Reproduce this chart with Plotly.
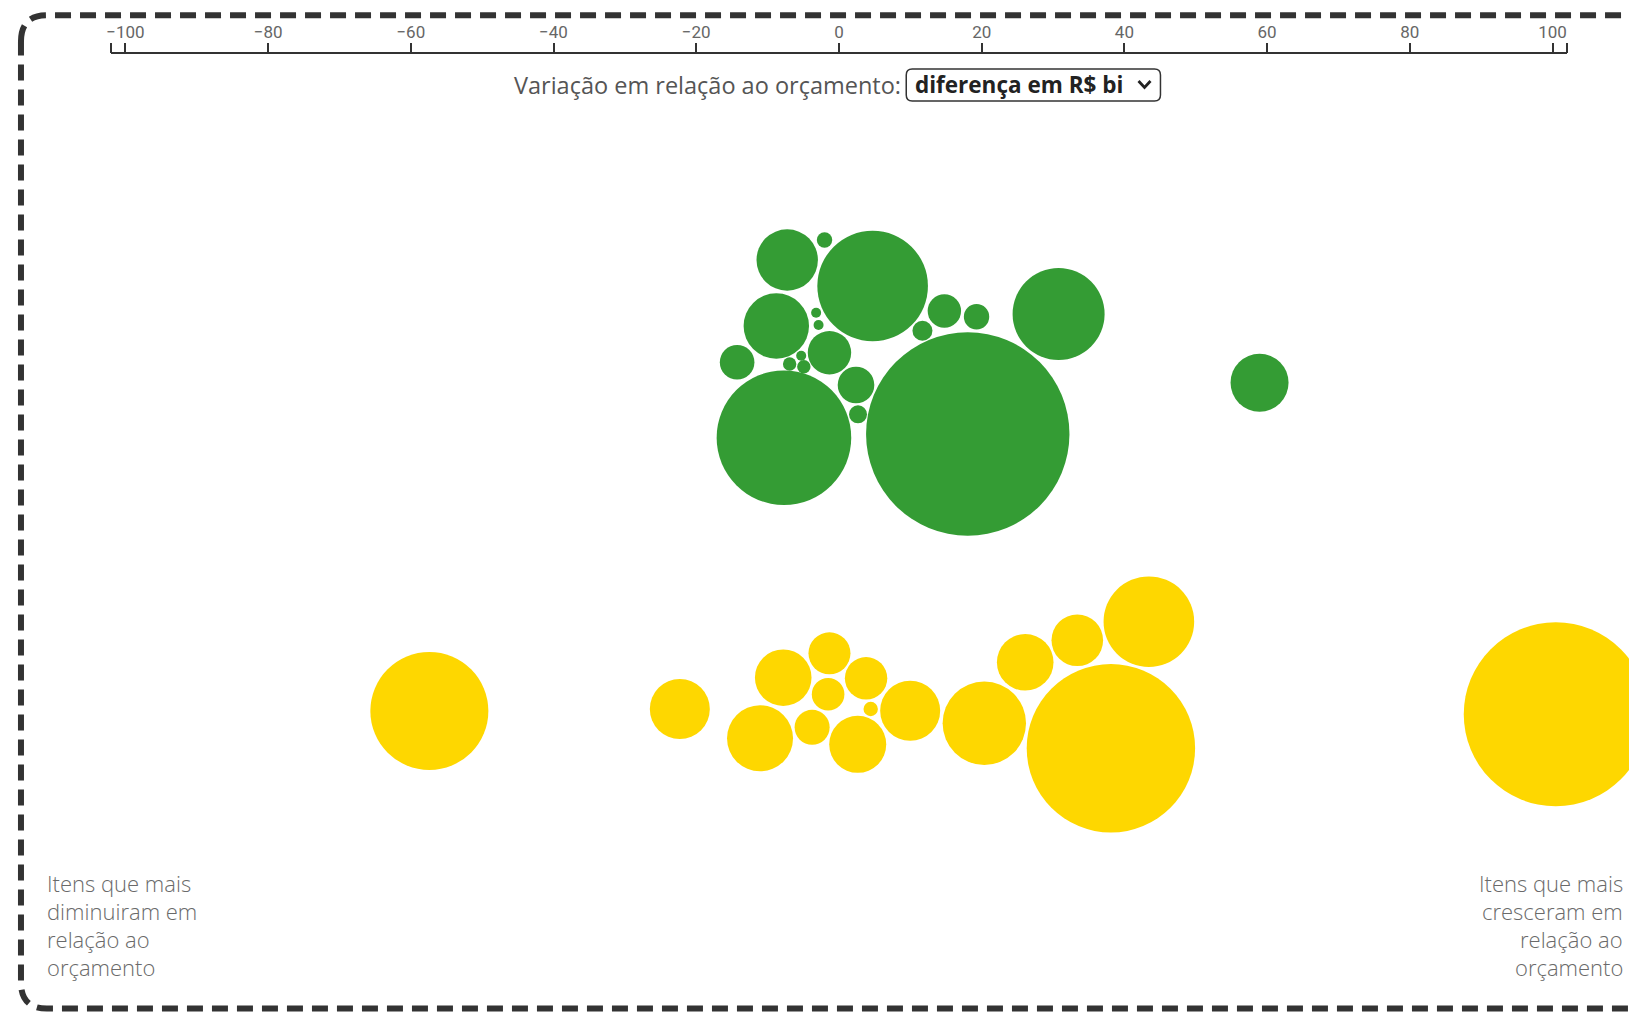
import plotly.graph_objects as go

# ---------------- data ----------------
tick_values = [-102, -100, -80, -60, -40, -20, 0, 20, 40, 60, 80, 100, 102]
tick_labels = ["", "\u2212100", "\u221280", "\u221260", "\u221240", "\u221220", "0", "20", "40", "60", "80", "100", ""]

# green group: difference (R$ bi), swarm offset, bubble radius
green_val = [-7.25, -2.02, 4.72, -8.78, -3.20, -2.86, -1.33, -14.27, -6.91, -5.29,
             -4.92, 2.39, 2.67, -7.71, 18.05, 14.77, 19.28, 11.70, 30.78, 58.94]
green_swarm_y = [260, 240, 286, 326, 312.7, 325, 352.7, 362.3, 364, 355.7,
                 366.7, 385, 414.3, 437.7, 434, 311, 316.7, 330.7, 314, 382.7]
green_radius = [30.7, 7.7, 55.3, 32.7, 5, 5, 21.7, 17.3, 6.7, 5,
                6.7, 18.3, 9, 67.3, 101.7, 16.7, 12.7, 10, 46, 29]

# yellow group
yellow_val = [-22.30, -7.81, -11.06, -1.33, -1.52, 3.80, -3.76, 4.45, 2.63, 9.98,
              20.37, 26.10, 33.40, 43.43, 38.11, -57.40, 100.45]
yellow_swarm_y = [709, 677.7, 738.3, 653.3, 694.3, 678.3, 727.3, 709, 744.3, 710.7,
                  723.3, 662.3, 640.3, 621.7, 748.3, 711, 714.3]
yellow_radius = [30, 28.3, 33, 21, 16.3, 21.2, 17.5, 7.2, 28.5, 30,
                 41.7, 28.3, 25.8, 45.3, 84.2, 59, 92]

selector_label = "Variação em relação ao orçamento:"
selector_value = "diferença em R$ bi"
left_note = ["Itens que mais", "diminuiram em", "relação ao", "orçamento"]
right_note = ["Itens que mais", "cresceram em", "relação ao", "orçamento"]

# ---------------- figure ----------------
# page body has an 8px default margin: the figure is sized to fit the window
OFF = 8
WIN_W, WIN_H = 1637, 1013
W, H = WIN_W - OFF, WIN_H - OFF
GREEN = "#349c34"
YELLOW = "#fed700"


def px(x):
    return (x - OFF) / W


def py(y):
    return 1 - (y - OFF) / H


fig = go.Figure()
fig.add_trace(go.Scatter(
    x=green_val, y=green_swarm_y, mode="markers", cliponaxis=False,
    marker=dict(size=[2 * r for r in green_radius], color=GREEN, opacity=1,
                line=dict(width=0)),
    hoverinfo="x", showlegend=False))
fig.add_trace(go.Scatter(
    x=yellow_val, y=yellow_swarm_y, mode="markers", cliponaxis=False,
    marker=dict(size=[2 * r for r in yellow_radius], color=YELLOW, opacity=1,
                line=dict(width=0)),
    hoverinfo="x", showlegend=False))

shapes = []


def rounded_rect(x0, y0, x1, y1, r):
    pts = [
        f"M {px(x0)} {py(y0 + r)}",
        f"Q {px(x0)} {py(y0)} {px(x0 + r)} {py(y0)}",
        f"L {px(x1 - r)} {py(y0)}",
        f"Q {px(x1)} {py(y0)} {px(x1)} {py(y0 + r)}",
        f"L {px(x1)} {py(y1 - r)}",
        f"Q {px(x1)} {py(y1)} {px(x1 - r)} {py(y1)}",
        f"L {px(x0 + r)} {py(y1)}",
        f"Q {px(x0)} {py(y1)} {px(x0)} {py(y1 - r)}",
        "Z",
    ]
    return " ".join(pts)


# dashed frame
shapes.append(dict(type="path", xref="paper", yref="paper",
                   path=rounded_rect(16, 15.3, 1655, 1008.5, 26),
                   line=dict(color="#333333", width=6, dash="16px,9px"),
                   layer="above"))
# selector box
shapes.append(dict(type="path", xref="paper", yref="paper",
                   path=rounded_rect(904, 69, 1159, 101, 6),
                   line=dict(color="#333333", width=1.5), layer="above"))
# chevron
shapes.append(dict(type="path", xref="paper", yref="paper",
                   path=f"M {px(1137)} {py(81)} L {px(1143)} {py(87.5)} L {px(1149)} {py(81)}",
                   line=dict(color="#222222", width=2.8), layer="above"))

annotations = [
    dict(x=px(901), y=py(85), xref="paper", yref="paper", xanchor="right", yanchor="middle",
         text=selector_label, showarrow=False,
         font=dict(family="Open Sans", size=23.5, color="#555555")),
    dict(x=px(911), y=py(85), xref="paper", yref="paper", xanchor="left", yanchor="middle",
         text=f"<b>{selector_value}</b>", showarrow=False,
         font=dict(family="Open Sans", size=22.5, color="#222222")),
]
line_y = [883, 911, 939, 967]
for txt, yy in zip(left_note, line_y):
    annotations.append(dict(x=px(40), y=py(yy), xref="paper", yref="paper",
                            xanchor="left", yanchor="middle", text=txt, showarrow=False,
                            font=dict(family="Open Sans", size=22, color="#6a6a6a", weight=300)))
for txt, yy in zip(right_note, line_y):
    annotations.append(dict(x=px(1625), y=py(yy), xref="paper", yref="paper",
                            xanchor="right", yanchor="middle", text=txt, showarrow=False,
                            font=dict(family="Open Sans", size=22, color="#6a6a6a", weight=300)))

fig.update_layout(
    width=W, height=H,
    margin=dict(l=0, r=0, t=0, b=0),
    paper_bgcolor="white", plot_bgcolor="white",
    xaxis=dict(
        domain=[px(106.4), px(1566.6)], range=[-102, 102],
        side="top", anchor="free", position=py(53.3),
        showline=True, linecolor="#333333", linewidth=1.5,
        ticks="outside", ticklen=10, tickwidth=1.5, tickcolor="#333333",
        tickvals=tick_values, ticktext=tick_labels,
        tickfont=dict(family="Roboto", size=17, color="#666666"),
        ticklabelstandoff=-2,
        showgrid=False, zeroline=False, fixedrange=True,
    ),
    yaxis=dict(domain=[0, 1], range=[WIN_H, OFF], visible=False, fixedrange=True),
    shapes=shapes,
    annotations=annotations,
    font=dict(family="Open Sans"),
)

fig.write_html("out.html")
